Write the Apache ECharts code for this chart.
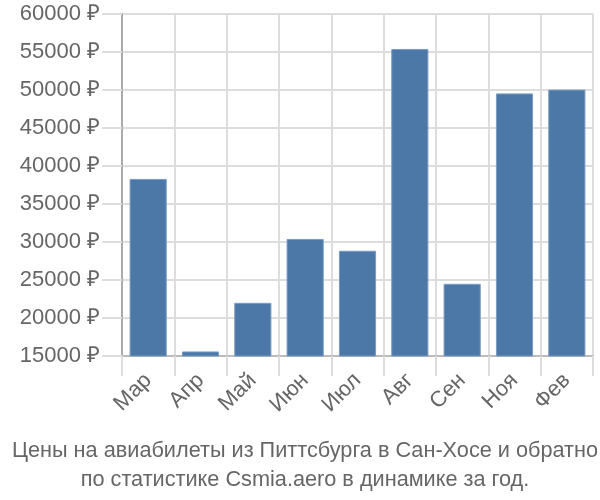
<!DOCTYPE html>
<html><head><meta charset="utf-8">
<script src="https://cdn.jsdelivr.net/npm/echarts@6/dist/echarts.min.js"></script>
<style>html,body{margin:0;padding:0;background:#fff}#c{width:600px;height:500px}</style>
</head><body><div id="c"></div>
<script>
var categories = ['Мар','Апр','Май','Июн','Июл','Авг','Сен','Ноя','Фев'];
var prices = [38300, 15600, 22000, 30400, 28850, 55400, 24500, 49550, 50050];
var titleText = 'Цены на авиабилеты из Питтсбурга в Сан-Хосе и обратно\nпо статистике Csmia.aero в динамике за год.';
var chart = echarts.init(document.getElementById('c'));
chart.setOption({
  animation: false,
  textStyle: {fontFamily: 'Liberation Sans, Arial, sans-serif'},
  title: {
    text: titleText, left: 300, top: 432, textAlign: 'center',
    textStyle: {fontSize: 21.7, fontWeight: 'normal', color: '#666', lineHeight: 29, fontFamily: 'Liberation Sans, Arial, sans-serif'}
  },
  grid: {left: 122, right: 7, top: 14, bottom: 144, containLabel: false},
  xAxis: {
    type: 'category', data: categories, boundaryGap: true,
    axisLine: {show: true, lineStyle: {color: '#bbb', width: 2}},
    axisTick: {show: true, length: 20, lineStyle: {color: '#ddd', width: 2}},
    splitLine: {show: true, lineStyle: {color: '#ddd', width: 2}},
    axisLabel: {rotate: 45, fontSize: 22, color: '#666', margin: 21}
  },
  yAxis: {
    type: 'value', min: 15000, max: 60000, interval: 5000,
    axisLine: {show: true, lineStyle: {color: '#aaa', width: 2}},
    axisTick: {show: true, length: 20, lineStyle: {color: '#ddd', width: 2}},
    splitLine: {show: true, lineStyle: {color: '#ddd', width: 2}},
    axisLabel: {formatter: function (v) { return v + ' ₽'; }, fontSize: 22, color: '#666', margin: 22}
  },
  series: [{
    type: 'bar', data: prices, barWidth: '71%',
    itemStyle: {color: '#4c78a8', borderColor: '#7a9cc4', borderWidth: 1}
  }]
});
</script></body></html>
